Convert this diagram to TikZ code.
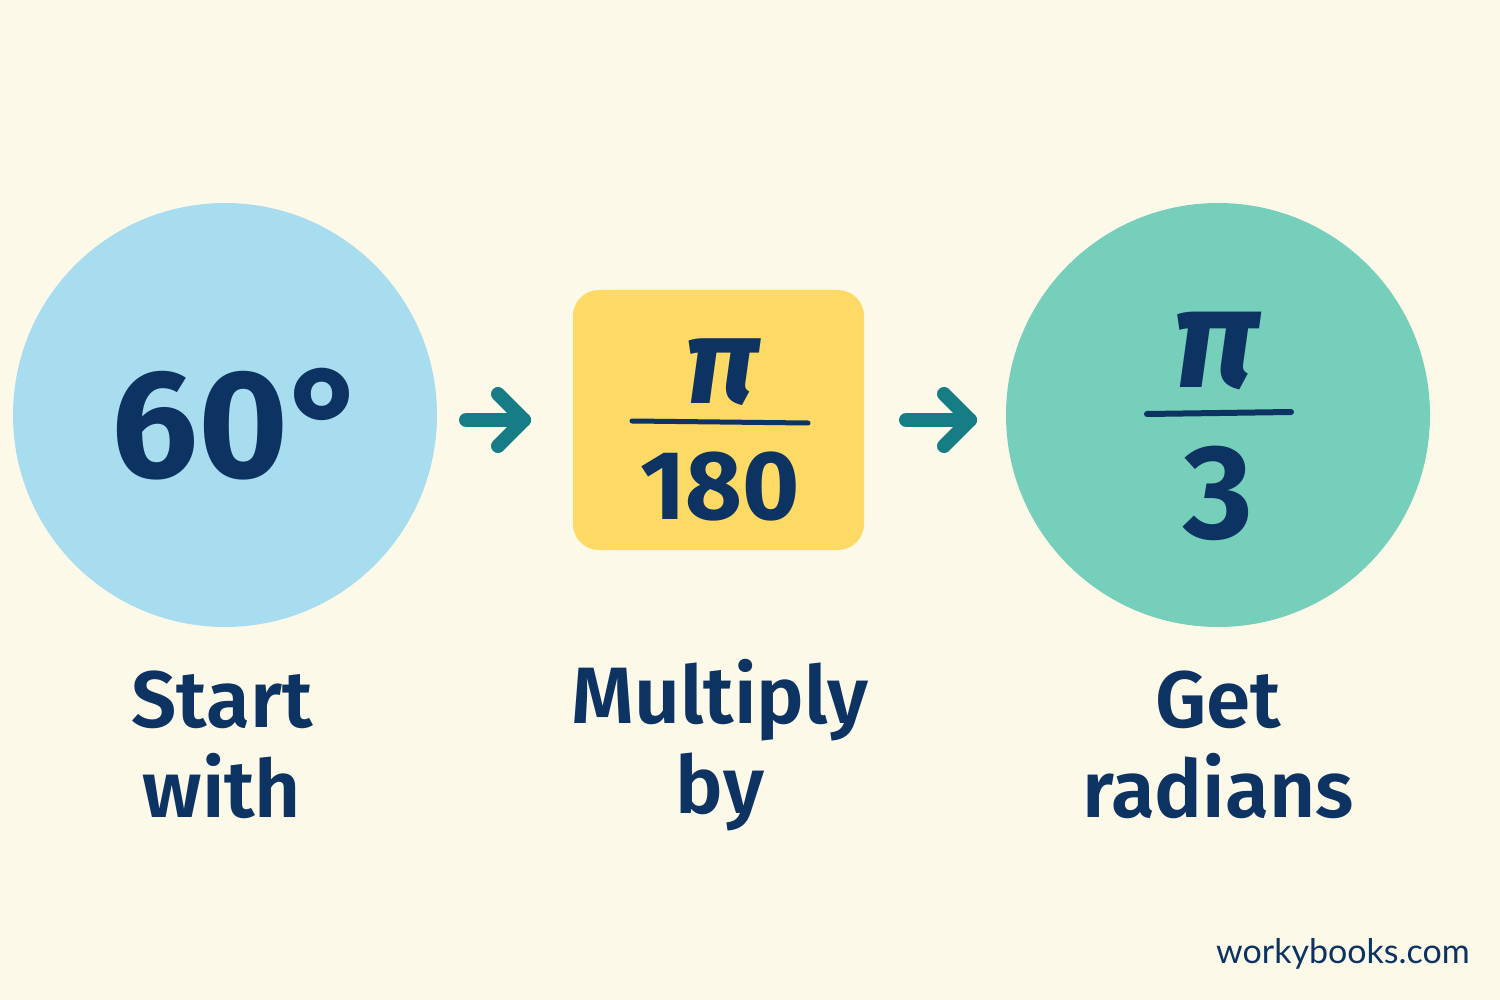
\documentclass[tikz,border=0pt]{standalone}
\usepackage{fontspec}
\setmainfont{Fira Sans}
\newfontfamily\labelfont{Fira Sans SemiBold}
\newfontfamily\urlfont{Lato}
\usetikzlibrary{positioning,calc}
\definecolor{bgc}{HTML}{FDF9E9}
\definecolor{bluec}{HTML}{A8DCEF}
\definecolor{yellowc}{HTML}{FDD966}
\definecolor{greenc}{HTML}{76CFBB}
\definecolor{navy}{HTML}{0D3363}
\definecolor{tealc}{HTML}{167C86}
\tikzset{
  disc/.style={circle, inner sep=0pt, minimum size=424pt},
  bigtxt/.style={text=navy, font=\bfseries\fontsize{#1}{#1}\selectfont, inner sep=0pt, anchor=base},
  pitxt/.style={text=navy, font=\bfseries\itshape\fontsize{#1}{#1}\selectfont, inner sep=0pt, anchor=base},
  lbl/.style={text=navy, font=\labelfont\fontsize{80}{90}\selectfont, align=center, inner sep=0pt},
  fracline/.style={draw=navy, line width=#1, line cap=round},
  arr/.style={draw=tealc, line width=14pt, line cap=round, line join=round},
}
\begin{document}
\begin{tikzpicture}[x=1pt,y=-1pt]
\useasboundingbox (0,0) rectangle (1500,1000);
\fill[bgc] (0,0) rectangle (1500,1000);
% shapes
\node[disc, fill=bluec] (c1) at (225,415) {};
\node[fill=yellowc, rounded corners=26pt, minimum width=291pt, minimum height=260pt, inner sep=0pt] (box) at (718.5,420) {};
\node[disc, fill=greenc] (c3) at (1218,415) {};
% contents
\node[bigtxt=154] (deg) at (240,477) {60°};
\node[pitxt=122] (pi1) at (722,403) {π};
\draw[fracline=5pt] (632,421) coordinate (f1a) -- (808,423) coordinate (f1b);
\node[bigtxt=98] (n180) at (720,519) {180};
\node[pitxt=142] (pi2) at (1216,388) {π};
\draw[fracline=6pt] (1147,414) coordinate (f2a) -- (1291,412) coordinate (f2b);
\node[bigtxt=134] (n3) at (1218,538) {3};
% arrows
\coordinate (a1s) at (466,420);
\coordinate (a1e) at (524,420);
\draw[arr] (a1s) -- (a1e);
\draw[arr] ($(a1e)+(-26,-26)$) -- (a1e) -- ($(a1e)+(-26,26)$);
\coordinate (a2s) at (906,420);
\coordinate (a2e) at (970,420);
\draw[arr] (a2s) -- (a2e);
\draw[arr] ($(a2e)+(-26,-26)$) -- (a2e) -- ($(a2e)+(-26,26)$);
% labels
\node[lbl] (l1) at (222,745) {Start\\with};
\node[lbl] (l2) at (720,745) {Multiply\\by};
\node[lbl] (l3) at (1218,745) {Get\\radians};
\node[text=navy, font=\urlfont\fontsize{34}{34}\selectfont, anchor=east, inner sep=0pt] (url) at (1470,954) {workybooks.com};
\end{tikzpicture}
\end{document}
